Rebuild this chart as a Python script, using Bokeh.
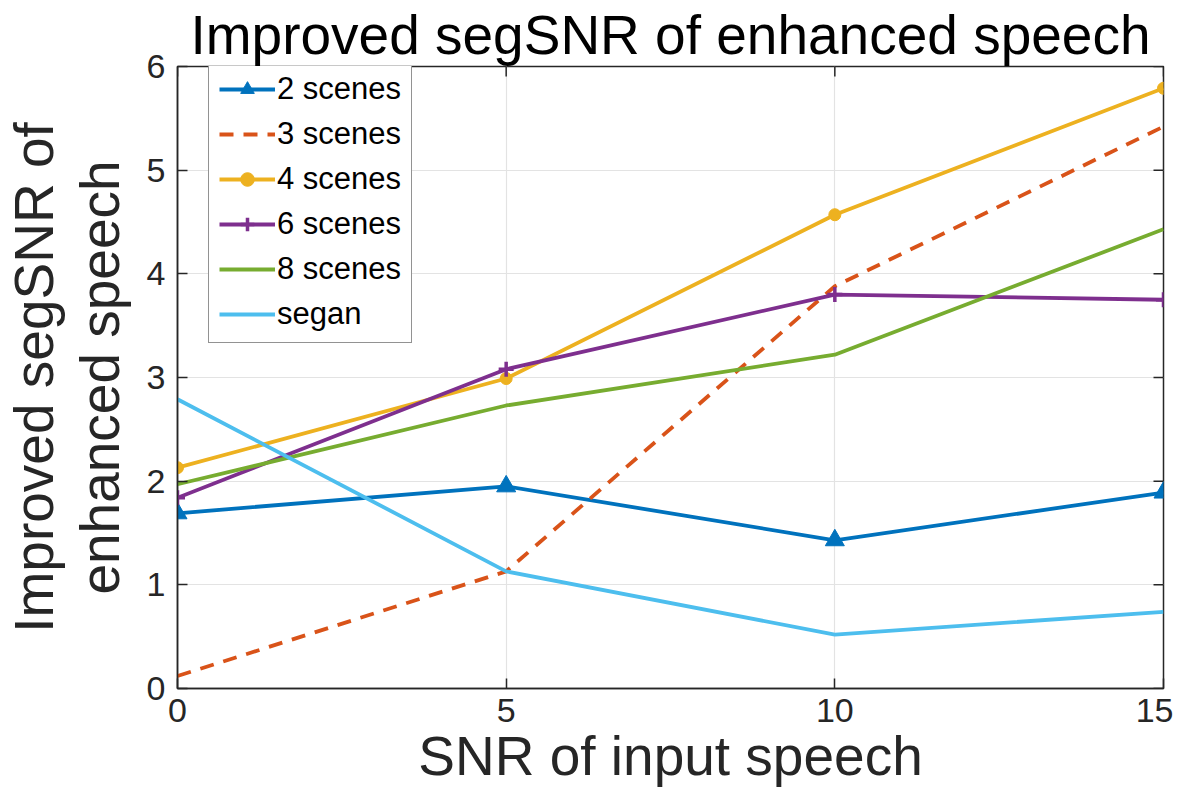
import math
from bokeh.plotting import figure
from bokeh.models import FixedTicker, Range1d, Legend, LegendItem
from bokeh.embed import file_html
from bokeh.resources import INLINE

snr = [0, 5, 10, 15]
s2 = [1.69, 1.95, 1.43, 1.89]
s3 = [0.12, 1.13, 3.88, 5.42]
s4 = [2.13, 2.99, 4.57, 5.79]
s6 = [1.84, 3.08, 3.80, 3.75]
s8 = [1.97, 2.73, 3.22, 4.43]
segan = [2.79, 1.13, 0.52, 0.74]
x_ticks = [0, 5, 10, 15]
y_ticks = [0, 1, 2, 3, 4, 5, 6]
x_lo, x_hi = 0, 15
y_lo, y_hi = 0, 6

FONT = "Liberation Sans"
C = ["#0072BD", "#D95319", "#EDB120", "#7E2F8E", "#77AC30", "#4DBEEE"]
AX = "#262626"

p = figure(width=1173, height=789, output_backend="svg", toolbar_location=None,
           x_range=Range1d(x_lo, x_hi), y_range=Range1d(y_lo, y_hi),
           min_border_left=177, min_border_right=10, min_border_top=65, min_border_bottom=99)
p.title.text = "Improved segSNR of enhanced speech"
p.title.text_font = FONT
p.title.text_font_size = "55px"
p.title.text_font_style = "normal"
p.title.align = "center"
p.title.text_color = "black"
p.title.offset = 0
p.title.standoff = 2
p.title.text_line_height = 0.9
p.outline_line_color = AX
p.outline_line_width = 1.5

for ax in (p.xaxis[0], p.yaxis[0]):
    ax.major_tick_in = 10
    ax.major_tick_out = 0
    ax.minor_tick_in = 0
    ax.minor_tick_out = 0
    ax.axis_line_color = AX
    ax.axis_line_width = 1.5
    ax.major_tick_line_color = AX
    ax.major_tick_line_width = 1.5
    ax.major_label_text_font = FONT
    ax.major_label_text_font_size = "34px"
    ax.major_label_text_color = AX
    ax.major_label_text_line_height = 0.9
    ax.axis_label_text_font = FONT
    ax.axis_label_text_font_size = "55px"
    ax.axis_label_text_font_style = "normal"
    ax.axis_label_text_color = AX
    ax.axis_label_text_line_height = 0.9

p.xaxis.ticker = FixedTicker(ticks=x_ticks)
p.yaxis.ticker = FixedTicker(ticks=y_ticks)
p.xaxis.axis_label = "SNR of input speech"
p.yaxis.axis_label = "Improved segSNR of\nenhanced speech"
p.yaxis.axis_label_text_line_height = 1.05
p.xaxis.major_label_standoff = 10
p.yaxis.major_label_standoff = 12
p.xaxis.axis_label_standoff = 0
p.yaxis.axis_label_standoff = 13

p.xgrid.ticker = FixedTicker(ticks=x_ticks)
p.ygrid.ticker = FixedTicker(ticks=y_ticks)
p.grid.grid_line_color = "#e3e3e3"
p.grid.grid_line_width = 1.2

# inner tick marks on the top and right edges (half of each dash is clipped by the frame)
p.scatter(x_ticks, [y_hi] * len(x_ticks), marker="dash", size=20, angle=math.pi / 2,
          line_color=AX, line_width=1.5)
p.scatter([x_hi] * len(y_ticks), y_ticks, marker="dash", size=20,
          line_color=AX, line_width=1.5)

lw = 3.8
r2 = p.line(snr, s2, color=C[0], line_width=lw)
m2 = p.scatter(snr, s2, marker="triangle", size=19, fill_color=C[0], line_color=C[0], line_width=1)
r3 = p.line(snr, s3, color=C[1], line_width=lw, line_dash="14 10")
r4 = p.line(snr, s4, color=C[2], line_width=lw)
m4 = p.scatter(snr, s4, marker="circle", size=12, fill_color=C[2], line_color=C[2])
r6 = p.line(snr, s6, color=C[3], line_width=lw)
m6 = p.scatter(snr, s6, marker="cross", size=15, line_color=C[3], line_width=3.5)
r8 = p.line(snr, s8, color=C[4], line_width=lw)
rs = p.line(snr, segan, color=C[5], line_width=lw)

legend = Legend(items=[
    LegendItem(label="2 scenes", renderers=[r2, m2]),
    LegendItem(label="3 scenes", renderers=[r3]),
    LegendItem(label="4 scenes", renderers=[r4, m4]),
    LegendItem(label="6 scenes", renderers=[r6, m6]),
    LegendItem(label="8 scenes", renderers=[r8]),
    LegendItem(label="segan", renderers=[rs]),
], location=(31, 345))
legend.label_text_font = FONT
legend.label_text_font_size = "31px"
legend.label_text_color = "black"
legend.glyph_width = 56
legend.glyph_height = 34
legend.label_height = 34
legend.spacing = 9
legend.label_standoff = 2
legend.padding = 10
legend.margin = 0
legend.border_line_color = AX
legend.border_line_width = 1.8
legend.background_fill_alpha = 1
p.add_layout(legend)

open("out.html", "w").write(file_html(p, INLINE))
